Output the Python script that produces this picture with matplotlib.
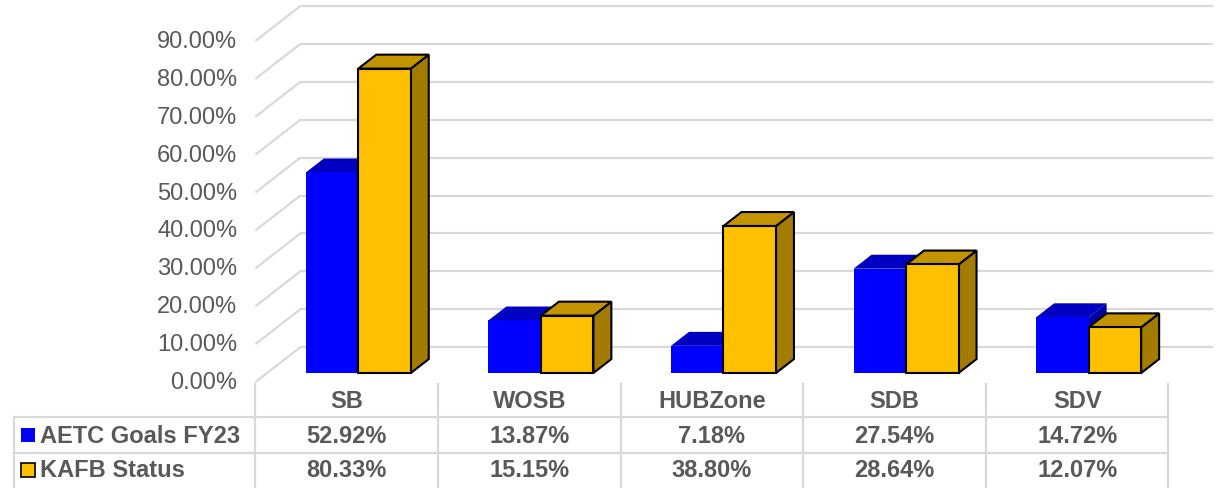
import matplotlib
matplotlib.use("Agg")
import matplotlib.pyplot as plt
from matplotlib.patches import Polygon

categories = ["SB", "WOSB", "HUBZone", "SDB", "SDV"]
aetc_goals = [52.92, 13.87, 7.18, 27.54, 14.72]
kafb_status = [80.33, 15.15, 38.80, 28.64, 12.07]
series_names = ["AETC Goals FY23", "KAFB Status"]
y_ticks = [0, 10, 20, 30, 40, 50, 60, 70, 80, 90]

plt.rcParams["font.family"] = ["Liberation Sans", "DejaVu Sans"]

TEXT = "#595959"
GRID = "#d9d9d9"

fig = plt.figure(figsize=(12.17, 4.89), dpi=100)
ax = fig.add_axes([0, 0, 1, 1])
# x in category units, y in percent; the table lives below zero
ax.set_xlim(-1.399, 5.266)
ax.set_ylim(-27.97, 101.06)
ax.axis("off")

# depth of the fake 3d box
DX, DY = 0.246, 9.2
bar_front, bar_back = 0.257, 0.657
bar_w = 0.2875

for t in y_ticks:
    ax.plot([0, DX], [t, t + DY], color=GRID, lw=1.6, solid_capstyle="butt")
    ax.plot([DX, 5.244], [t + DY, t + DY], color=GRID, lw=1.6, solid_capstyle="butt")
    ax.text(-0.10, t, f"{t:.2f}%", ha="right", va="center", fontsize=17, color=TEXT)

# colours: front, top, side, edge
styles = [("#0000ff", "#0000c0", "#0000a8", None),
          ("#ffc000", "#c49400", "#a27b00", "black")]
series = [aetc_goals, kafb_status]

ox, oy = DX * bar_front, DY * bar_front
ddx, ddy = DX * (bar_back - bar_front), DY * (bar_back - bar_front)
z = 3
for i in range(len(categories)):
    for j, vals in enumerate(series):
        front, top, side, edge = styles[j]
        lw = 1.5 if edge else 0
        ec = edge if edge else "none"
        x0 = i + 0.5 - bar_w + j * bar_w + ox
        x1 = x0 + bar_w
        y1 = oy + vals[i]
        ax.add_patch(Polygon([(x1, oy), (x1 + ddx, oy + ddy), (x1 + ddx, y1 + ddy), (x1, y1)],
                             fc=side, ec=ec, lw=lw, joinstyle="miter", zorder=z))
        ax.add_patch(Polygon([(x0, y1), (x1, y1), (x1 + ddx, y1 + ddy), (x0 + ddx, y1 + ddy)],
                             fc=top, ec=ec, lw=lw, joinstyle="miter", zorder=z))
        ax.bar(x0, vals[i], width=bar_w, bottom=oy, align="edge", color=front,
               edgecolor=ec, linewidth=lw, zorder=z + 0.5)
        z += 1

# data table
row_lines = [-9.23, -18.73]
tbl_left = -1.322
for ry in row_lines:
    ax.plot([tbl_left, 5], [ry, ry], color=GRID, lw=1.6)
for k in range(len(categories) + 1):
    ax.plot([k, k], [-0.5, -28], color=GRID, lw=1.6)
ax.plot([tbl_left, tbl_left], [row_lines[0], -28], color=GRID, lw=1.6)

for i, cat in enumerate(categories):
    ax.text(i + 0.5, -5.0, cat, ha="center", va="center", fontsize=17,
            fontweight="bold", color=TEXT)

row_y = [-14.0, -23.2]
for j, vals in enumerate(series):
    front, top, side, edge = styles[j]
    ax.plot([-1.243], [row_y[j]], marker="s", markersize=9.5, color=front,
            markeredgecolor=edge if edge else front, markeredgewidth=1.2 if edge else 0)
    ax.text(-1.18, row_y[j], series_names[j], ha="left", va="center", fontsize=17,
            fontweight="bold", color=TEXT)
    for i, v in enumerate(vals):
        ax.text(i + 0.5, row_y[j], f"{v:.2f}%", ha="center", va="center", fontsize=17,
                fontweight="bold", color=TEXT)

fig.savefig("out.png", dpi=100)
